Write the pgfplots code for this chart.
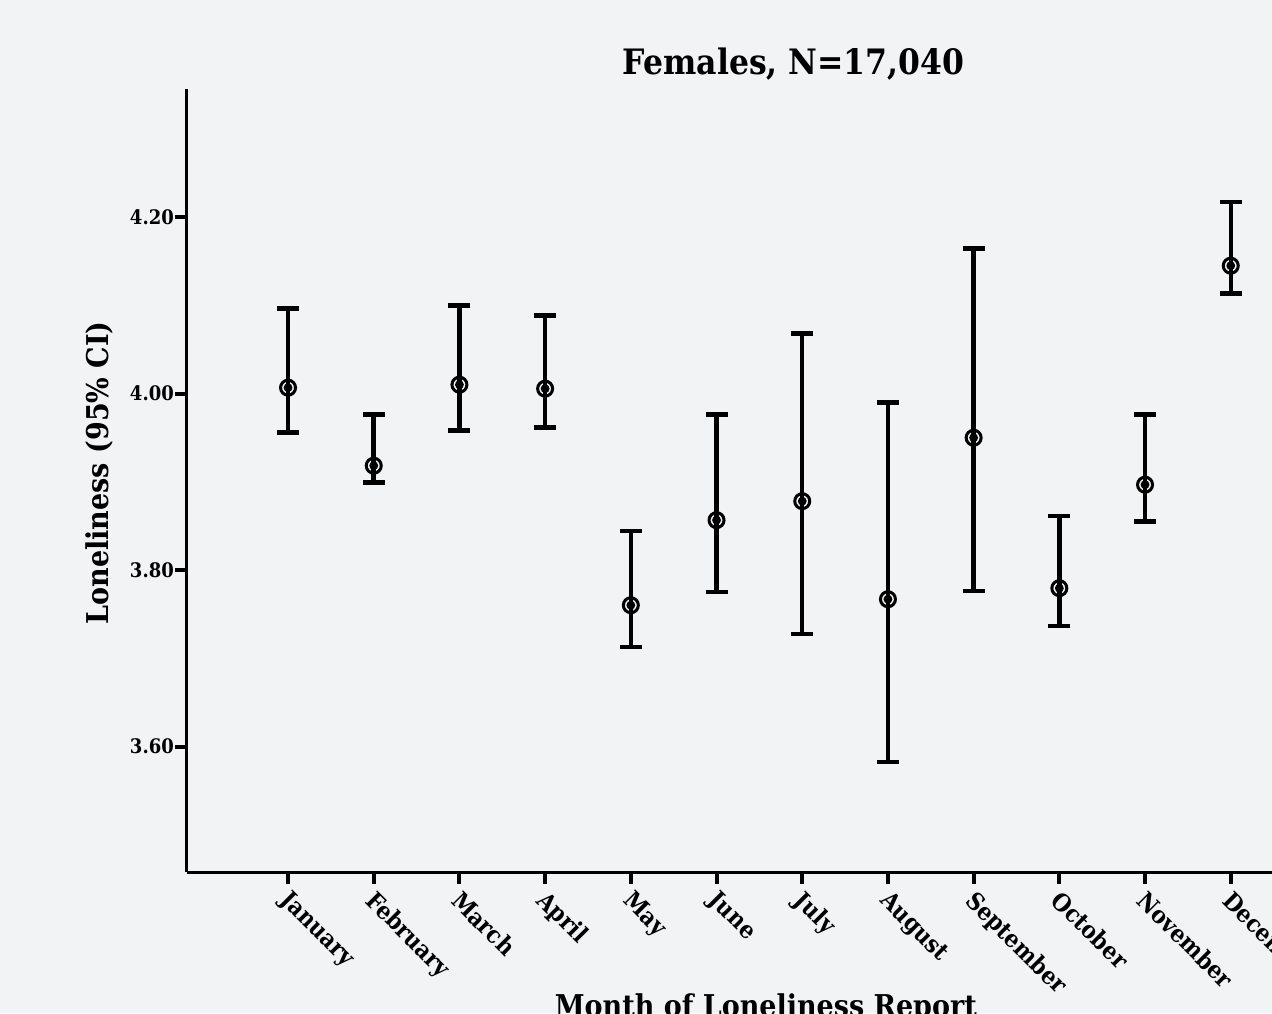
\documentclass[border=0pt]{standalone}
\usepackage{fontspec}
\setmainfont{DejaVu Serif Condensed}
\usepackage{pgfplots}
\usepackage{pgfplotstable}
\pgfplotsset{compat=1.18}
\definecolor{bg}{RGB}{242,243,245}
\pgfplotstableread{
x y ep em
0 4.0068 0.0895 0.0510
1 3.9184 0.0578 0.0193
2 4.0102 0.0895 0.0521
3 4.0057 0.0827 0.0442
4 3.7603 0.0839 0.0476
5 3.8567 0.1195 0.0816
6 3.8782 0.1898 0.1507
7 3.7671 0.2227 0.1847
8 3.9501 0.2142 0.1739
9 3.7796 0.0816 0.0431
10 3.8969 0.0793 0.0419
11 4.1450 0.0720 0.0317
}\datatable
\begin{document}
\begin{tikzpicture}
\path[use as bounding box] (-187pt,-141pt) rectangle (1085pt,872pt);
\clip (-187pt,-141pt) rectangle (1085pt,872pt);
\fill[bg] (-187pt,-141pt) rectangle (1085pt,872pt);
\begin{axis}[
  at={(0pt,0pt)}, anchor=south west,
  x=85.7pt, y=882.5pt,
  xmin=-1.179, xmax=12.33, ymin=3.458, ymax=4.345,
  axis lines*=left,
  axis line style={line width=3pt, black},
  tick align=outside,
  major tick length=12pt,
  tick style={line width=4pt, black},
  xtick={0,...,11},
  xticklabels={January,February,March,April,May,June,July,August,September,October,November,December},
  ytick={3.6,3.8,4.0,4.2},
  /pgf/number format/fixed, /pgf/number format/fixed zerofill, /pgf/number format/precision=2, /pgf/number format/assume math mode=true,
  yticklabel style={font=\fontsize{20}{24}\selectfont\bfseries, inner sep=1pt},
  xticklabel style={font=\fontsize{24}{28}\selectfont\bfseries, rotate=-45, anchor=north west, inner sep=1pt, xshift=5pt},
  title={Females, N=17,040},
  title style={font=\fontsize{35}{40}\selectfont\bfseries, at={(axis description cs:0.524,1.011)}, anchor=base},
  ylabel={Loneliness (95\% CI)},
  ylabel style={font=\fontsize{30}{34}\selectfont\bfseries, at={(axis description cs:-0.0639,0.51)}, anchor=south, inner sep=0pt},
  xlabel={Month of Loneliness Report},
  xlabel style={font=\fontsize{30}{34}\selectfont\bfseries, at={(axis description cs:0.5,-0.1547)}, anchor=north, inner sep=0pt},
  clip=false,
]
\addplot[black, line width=4.5pt, only marks, mark=none,
  error bars/.cd, y dir=both, y explicit, error mark=none,
  error bar style={line width=4.5pt, black}]
  table[x=x, y=y, y error plus=ep, y error minus=em] {\datatable};
\addplot[black, only marks, mark=-, mark size=11pt, mark options={line width=4.5pt}]
  table[x=x, y expr=\thisrow{y}+\thisrow{ep}] {\datatable};
\addplot[black, only marks, mark=-, mark size=11pt, mark options={line width=4.5pt}]
  table[x=x, y expr=\thisrow{y}-\thisrow{em}] {\datatable};
\addplot[black, only marks, mark=o, mark size=7.5pt, mark options={line width=3pt}]
  table[x=x, y=y] {\datatable};
\end{axis}
\end{tikzpicture}
\end{document}
